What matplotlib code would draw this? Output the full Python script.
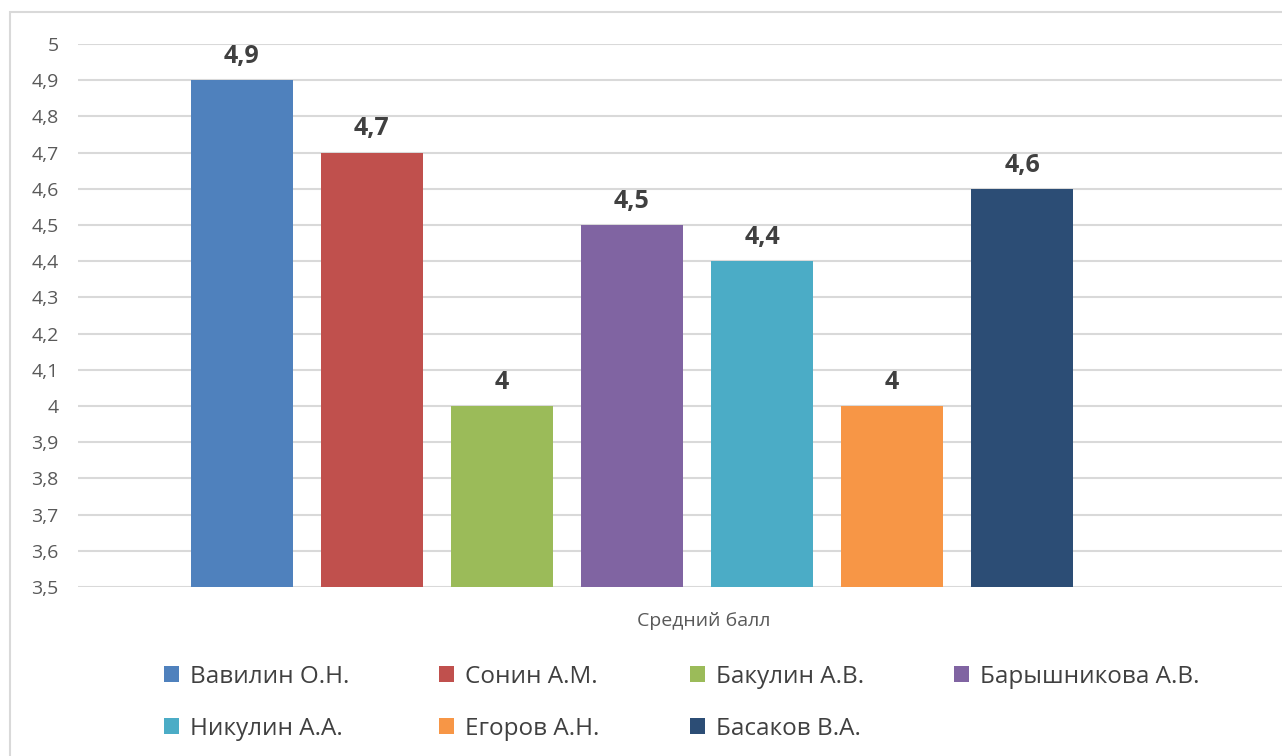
import matplotlib
matplotlib.use("Agg")
import matplotlib.pyplot as plt
from matplotlib.patches import Rectangle

plt.rcParams['font.family'] = ['Open Sans', 'DejaVu Sans']

names = ['Вавилин О.Н.', 'Сонин А.М.', 'Бакулин А.В.', 'Барышникова А.В.',
         'Никулин А.А.', 'Егоров А.Н.', 'Басаков В.А.']
scores = [4.9, 4.7, 4.0, 4.5, 4.4, 4.0, 4.6]
colors = ['#4F81BD', '#C0504D', '#9BBB59', '#8064A2', '#4BACC6', '#F79646', '#2C4D75']
category = 'Средний балл'
y_ticks = [3.5 + 0.1 * i for i in range(16)]


def comma(v):
    s = f"{v:.1f}".replace('.', ',')
    return s[:-2] if s.endswith(',0') else s


fig = plt.figure(figsize=(12.82, 7.56), dpi=100)
# axes: left 78px, right past the crop, bottom 587px, top 44px
ax = fig.add_axes([78 / 1282, 169 / 756, (1329 - 78) / 1282, (587 - 44) / 756])

fig.patches.append(Rectangle((10 / 1282, -0.01), 1.1, (756 - 12) / 756 + 0.01,
                             transform=fig.transFigure, fill=False,
                             edgecolor='#D9D9D9', linewidth=1.5))

handles = []
for i, (n, v, c) in enumerate(zip(names, scores, colors)):
    b = ax.bar(i, v - 3.5, bottom=3.5, width=0.785, color=c, label=n, zorder=3)
    ax.bar_label(b, labels=[comma(v)], padding=8, fontsize=18, fontweight='bold',
                 color='#404040')
    handles.append(b)

ax.set_ylim(3.5, 5.0)
ax.set_xlim(-1.26, 8.36)
ax.set_yticks(y_ticks)
ax.set_yticklabels([comma(t) for t in y_ticks], fontsize=14, color='#595959')
ax.tick_params(axis='y', length=0, pad=14)
ax.set_xticks([3.55])
ax.set_xticklabels([category], fontsize=14, color='#595959')
ax.tick_params(axis='x', length=0, pad=18)
ax.grid(axis='y', color='#D9D9D9', linewidth=1.5, zorder=0)
for s in ax.spines.values():
    s.set_visible(False)

order = [0, 4, 1, 5, 2, 6, 3]
fig.legend([handles[i] for i in order], [names[i] for i in order],
           ncol=4, loc='upper left', bbox_to_anchor=(142 / 1282, 1 - 643 / 756),
           frameon=False, fontsize=17.5, labelcolor='#404040',
           handlelength=0.62, handleheight=0.62, handletextpad=0.45,
           columnspacing=3.7, labelspacing=1.15)

fig.savefig('out.png', dpi=100, facecolor='white')
